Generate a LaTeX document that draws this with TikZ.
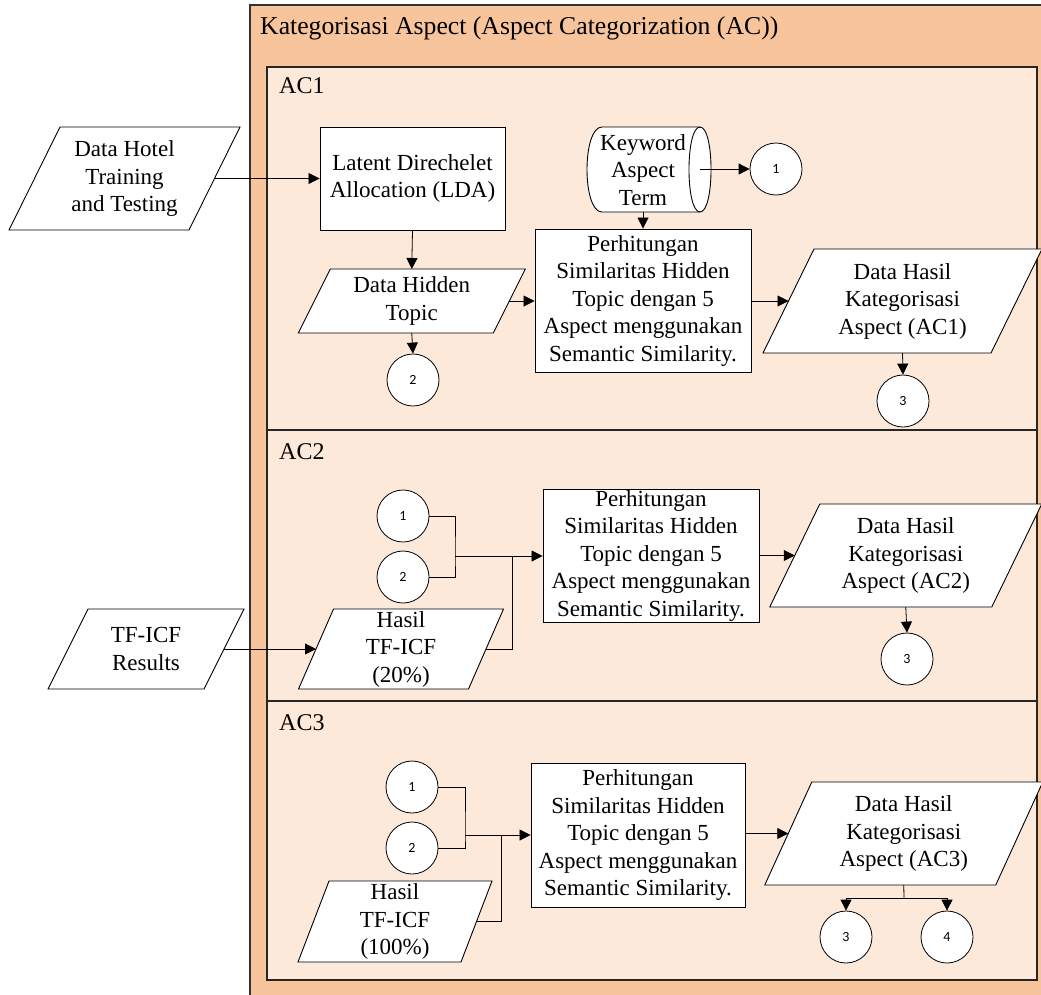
\documentclass[tikz,border=0pt]{standalone}
\usepackage{fontspec}
\setmainfont{Liberation Serif}
\newfontfamily\numfont{Carlito}
\usetikzlibrary{arrows.meta}
\definecolor{outerC}{HTML}{F8C49B}
\definecolor{innerC}{HTML}{FDE9DA}
\newcommand{\paraShape}[7]{%
  \draw[box] ({#2-#4/2-#6/2},{#3+#5/2}) -- ({#2+#4/2-#6/2},{#3+#5/2}) -- ({#2+#4/2+#6/2},{#3-#5/2}) -- ({#2-#4/2+#6/2},{#3-#5/2}) -- cycle;
  \node[txt] (#1) at (#2,#3) {#7};
  \coordinate (#1-e) at ({#2+#4/2},#3);
  \coordinate (#1-w) at ({#2-#4/2},#3);
  \coordinate (#1-n) at (#2,{#3-#5/2});
  \coordinate (#1-s) at (#2,{#3+#5/2});
}
\begin{document}
\begin{tikzpicture}[x=1pt,y=-1pt,
  box/.style={draw=black, fill=white, line width=0.9pt},
  rbox/.style={box, rectangle, inner sep=0pt, align=center, font=\fontsize{23}{27.5}\selectfont},
  txt/.style={align=center, inner sep=0pt, font=\fontsize{23}{27.5}\selectfont},
  conn/.style={line width=0.8pt},
  arr/.style={conn, -{Triangle[length=11pt,width=11pt]}},
  circ/.style={circle, draw=black, fill=white, line width=0.8pt, minimum size=52pt, inner sep=0pt, font=\fontsize{14}{16}\selectfont\numfont},
  panel/.style={draw=black!85, fill=innerC, line width=1.3pt},
  lbl/.style={anchor=west, inner sep=0pt, font=\fontsize{24}{28}\selectfont}]
\useasboundingbox (0,0) rectangle (1041,994);
% outer container
\fill[outerC] (250,5) rectangle (1060,1010);
\draw[line width=1.2pt, black!80] (250,1010) -- (250,5) -- (1060,5);
\node[lbl, font=\fontsize{25.7}{30}\selectfont] (title) at (260,28) {Kategorisasi Aspect (Aspect Categorization (AC))};
% panels
\draw[panel] (267,67) rectangle (1037,430);
\draw[panel] (267,430) rectangle (1037,701);
\draw[panel] (267,701) rectangle (1037,980);
\node[lbl] (lac1) at (279,86) {AC1};
\node[lbl] (lac2) at (279,452) {AC2};
\node[lbl] (lac3) at (279,723) {AC3};

% ---------- outside inputs
\paraShape{dh}{124.5}{178.5}{180}{103}{51}{Data Hotel\\Training\\and Testing}
\paraShape{tfr}{146}{649}{156}{80}{40}{TF-ICF\\Results}

% ---------- AC1
\node[rbox, minimum width=185pt, minimum height=103pt] (lda) at (412.5,178.5) {Latent Direchelet\\Allocation (LDA)};
\paraShape{dht}{411.75}{301}{195}{64}{32}{Data Hidden\\Topic}
% keyword storage symbol
\draw[box] (602,127) -- (700,127) .. controls (714.7,127) and (714.7,212) .. (700,212) -- (602,212) .. controls (582,212) and (582,127) .. (602,127) -- cycle;
\draw[line width=0.9pt] (700,127) .. controls (685.3,127) and (685.3,212) .. (700,212);
\node[txt] (kat) at (643,170) {Keyword\\Aspect\\Term};
\coordinate (kat-e) at (700,169);
\coordinate (kat-s) at (643,212);
\node[rbox, minimum width=216pt, minimum height=143pt] (p1) at (643,300.5) {Perhitungan\\Similaritas Hidden\\Topic dengan 5\\Aspect menggunakan\\Semantic Similarity.};
\paraShape{dha1}{902.5}{301}{228}{104}{51}{Data Hasil\\Kategorisasi\\Aspect (AC1)}
\node[circ] (a1c1) at (776,169) {1};
\node[circ] (a1c2) at (413,380) {2};
\node[circ] (a1c3) at (903,401) {3};

\draw[arr] (dh-e) -- (lda.west |- dh-e);
\draw[arr] (lda.south) -- (dht-n);
\draw[arr] (dht-s) -- (a1c2.north);
\draw[arr] (dht-e) -- (p1.west |- dht-e);
\draw[arr] (kat-s) -- (p1.north);
\draw[arr] (kat-e) -- (a1c1.west);
\draw[arr] (p1.east |- dha1-w) -- (dha1-w);
\draw[arr] (dha1-s) -- (a1c3.north);

% ---------- AC2
\node[circ] (a2c1) at (403,516) {1};
\node[circ] (a2c2) at (403,577) {2};
\paraShape{h20}{401}{649}{170}{80}{35}{Hasil\\TF-ICF\\(20\%)}
\node[rbox, minimum width=216pt, minimum height=133pt] (p2) at (651,555.5) {Perhitungan\\Similaritas Hidden\\Topic dengan 5\\Aspect menggunakan\\Semantic Similarity.};
\paraShape{dha2}{905.75}{555.5}{222}{103}{50}{Data Hasil\\Kategorisasi\\Aspect (AC2)}
\node[circ] (a2c3) at (907,659) {3};
\coordinate (j2a) at (455,556);
\coordinate (j2b) at (512,556);
\draw[conn] (a2c1.east) -| (j2a) |- (a2c2.east);
\draw[arr] (j2a) -- (p2.west |- j2a);
\draw[conn] (h20-e) -| (j2b);
\draw[arr] (tfr-e) -- (h20-w);
\draw[arr] (p2.east |- dha2-w) -- (dha2-w);
\draw[arr] (dha2-s) -- (a2c3.north);

% ---------- AC3
\node[circ] (a3c1) at (412,787) {1};
\node[circ] (a3c2) at (412,848) {2};
\paraShape{h100}{395}{921.5}{163}{81}{31}{Hasil\\TF-ICF\\(100\%)}
\node[rbox, minimum width=214pt, minimum height=144pt] (p3) at (638,835) {Perhitungan\\Similaritas Hidden\\Topic dengan 5\\Aspect menggunakan\\Semantic Similarity.};
\paraShape{dha3}{903.75}{833.5}{231}{103}{47}{Data Hasil\\Kategorisasi\\Aspect (AC3)}
\node[circ] (a3c3) at (846,937) {3};
\node[circ] (a3c4) at (947,937) {4};
\coordinate (j3a) at (465,835);
\coordinate (j3b) at (501,835);
\coordinate (j3c) at (904,898);
\draw[conn] (a3c1.east) -| (j3a) |- (a3c2.east);
\draw[arr] (j3a) -- (p3.west |- j3a);
\draw[conn] (h100-e) -| (j3b);
\draw[arr] (p3.east |- dha3-w) -- (dha3-w);
\draw[conn] (dha3-s) -- (j3c);
\draw[arr] (j3c) -| (a3c3.north);
\draw[arr] (j3c) -| (a3c4.north);
\end{tikzpicture}
\end{document}
